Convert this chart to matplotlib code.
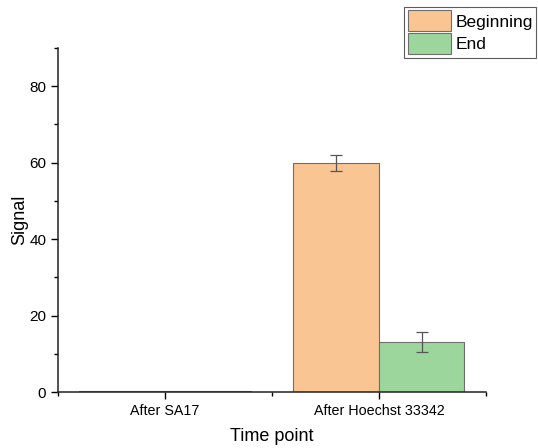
import matplotlib
matplotlib.use('Agg')
import matplotlib.pyplot as plt
from matplotlib.ticker import MultipleLocator
import numpy as np

# data (no visible error bar on the SA17 bars)
categories = ['After SA17', 'After Hoechst 33342']
beginning = [0.3, 59.9]
beginning_err = [np.nan, 2.1]
end = [0.2, 13.1]
end_err = [np.nan, 2.6]

plt.rcParams['font.family'] = ['Liberation Sans', 'DejaVu Sans']

fig = plt.figure(figsize=(5.38, 4.48), dpi=100)
ax = fig.add_axes([0.108, 0.125, 0.795, 0.768])

x = np.arange(len(categories))
w = 0.4
err_style = dict(ecolor='#555555', elinewidth=0.9, capsize=4, capthick=0.9)
ax.bar(x - w / 2, beginning, w, yerr=beginning_err, color='#F9C593',
       edgecolor='#6e6e6e', linewidth=0.8, label='Beginning', error_kw=err_style)
ax.bar(x + w / 2, end, w, yerr=end_err, color='#9DD69C',
       edgecolor='#6e6e6e', linewidth=0.8, label='End', error_kw=err_style)

ax.set_xlim(-0.5, 1.5)
ax.set_ylim(0, 90)
ax.set_xticks(x)
ax.set_xticklabels(categories)
ax.xaxis.set_minor_locator(MultipleLocator(0.5))
ax.yaxis.set_major_locator(MultipleLocator(20))
ax.yaxis.set_minor_locator(MultipleLocator(10))
ax.tick_params(axis='both', which='major', direction='out', length=5, width=1)
ax.tick_params(axis='y', which='major', labelsize=11)
ax.tick_params(axis='x', which='major', labelsize=10.3)
ax.tick_params(axis='both', which='minor', direction='out', length=3, width=1)

for s in ['top', 'right']:
    ax.spines[s].set_visible(False)
for s in ['left', 'bottom']:
    ax.spines[s].set_linewidth(1.1)
    ax.spines[s].set_color('#222222')

ax.set_xlabel('Time point', fontsize=13, labelpad=7)
ax.set_ylabel('Signal', fontsize=13, labelpad=1)

leg = fig.legend(loc='upper right', bbox_to_anchor=(0.997, 0.985), fontsize=12.5,
                 frameon=True, fancybox=False, edgecolor='#333333',
                 handlelength=2.5, handleheight=1.5, handletextpad=0.25,
                 labelspacing=0.1, borderpad=0.2, borderaxespad=0)
leg.get_frame().set_linewidth(0.8)

plt.savefig('out.png', dpi=100)
